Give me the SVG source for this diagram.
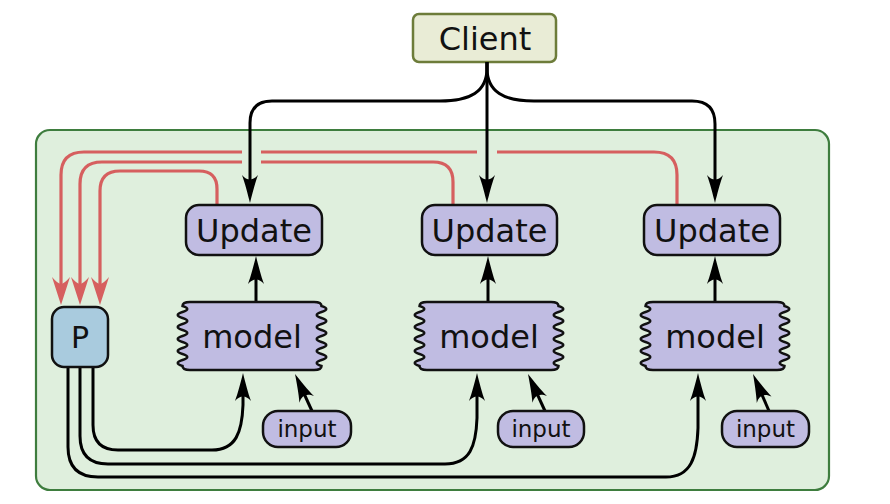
<svg xmlns="http://www.w3.org/2000/svg" width="890" height="504" viewBox="0 0 890 504">
<style>
text{font-family:"DejaVu Sans","Liberation Sans",sans-serif;text-anchor:middle;fill:#111}
.big{font-size:32px}
.small{font-size:23px}
.box{fill:#c0bce2;stroke:#111;stroke-width:2.5}
.blk{fill:none;stroke:#000;stroke-width:3;marker-end:url(#ab)}
.red{fill:none;stroke:#d65f5f;stroke-width:3.2;marker-end:url(#ar)}
</style>
<defs>
<marker id="ab" viewBox="-20 -9 32 18" refX="0" refY="0" markerWidth="32" markerHeight="18" markerUnits="userSpaceOnUse" orient="auto">
<path d="M10,0 C2,-2 -10,-5 -18,-8 C-12,-3 -12,3 -18,8 C-10,5 2,2 10,0 Z" fill="#000"/>
</marker>
<marker id="ar" viewBox="-18 -10 32 20" refX="0" refY="0" markerWidth="32" markerHeight="20" markerUnits="userSpaceOnUse" orient="auto">
<path d="M12,0 L-16,-9 Q-9,-3 -9,0 Q-9,3 -16,9 Z" fill="#d65f5f"/>
</marker>
<path id="modelShape" d="M12,0 H136 Q143.5,0 143.5,4 Q153,7 143.5,10 Q134,13 143.5,16 Q153,19 143.5,22 Q134,25 143.5,28 Q153,31 143.5,34 Q134,37 143.5,40 Q153,43 143.5,46 Q134,49 143.5,52 Q153,55 143.5,58 Q134,61 143.5,64 Q143.5,68 136,68 H12 Q4.5,68 4.5,64 Q-5,61 4.5,58 Q14,55 4.5,52 Q-5,49 4.5,46 Q14,43 4.5,40 Q-5,37 4.5,34 Q14,31 4.5,28 Q-5,25 4.5,22 Q14,19 4.5,16 Q-5,13 4.5,10 Q14,7 4.5,4 Q4.5,0 12,0 Z"/>
</defs>

<g id="container">
<rect x="36" y="130" width="793" height="360" rx="14" fill="#dfefdd" stroke="#3e7d3e" stroke-width="2.2"/>
</g>

<g id="client">
<rect x="413" y="14" width="143" height="48" rx="6" fill="#e9ecd6" stroke="#6d7c3a" stroke-width="2.5"/>
<text class="big" x="485" y="50">Client</text>
</g>

<g id="connectors">
<path class="red" d="M217,205 V189 Q217,171 199,171 H120 Q100,171 100,191 V293"/>
<path class="red" d="M453,205 V182 Q453,162 433,162 H261 M242,162 H102 Q80,162 80,184 V293"/>
<path class="red" d="M677,205 V175 Q677,152 654,152 H497 M477,152 H261 M242,152 H84 Q61,152 61,175 V293"/>
<path class="blk" d="M487,62 V68 C487,92 470,101 440,101 H272 Q250,101 250,123 V193"/>
<path class="blk" d="M487,62 V193"/>
<path class="blk" d="M487,62 V68 C487,92 504,101 534,101 H692 Q715,101 715,124 V193"/>
<path class="blk" d="M256,302 V266"/>
<path class="blk" d="M488,302 V266"/>
<path class="blk" d="M715,302 V266"/>
<path class="blk" d="M93,367 V425 Q93,450 118,450 H212 C236,450 242,432 243,405 V383"/>
<path class="blk" d="M80,367 V436 Q80,464 108,464 H445 C470,464 476,446 477,418 V383"/>
<path class="blk" d="M68,367 V447 Q68,477 98,477 H666 C691,477 697,457 698,428 V383"/>
<path class="blk" d="M312,411 L299.2,383.1"/>
<path class="blk" d="M545,411 L532.2,383.1"/>
<path class="blk" d="M769,411 L757,383.2"/>
</g>

<g id="update1"><rect class="box" x="186" y="205" width="136" height="50" rx="13"/><text class="big" x="254" y="242">Update</text></g>
<g id="update2"><rect class="box" x="422" y="205" width="135" height="50" rx="13"/><text class="big" x="489.5" y="242">Update</text></g>
<g id="update3"><rect class="box" x="644" y="205" width="136" height="50" rx="13"/><text class="big" x="712" y="242">Update</text></g>

<g id="model1"><use href="#modelShape" class="box" transform="translate(178,302)"/><text class="big" x="252" y="348">model</text></g>
<g id="model2"><use href="#modelShape" class="box" transform="translate(415,302)"/><text class="big" x="489" y="348">model</text></g>
<g id="model3"><use href="#modelShape" class="box" transform="translate(641,302)"/><text class="big" x="715" y="348">model</text></g>

<g id="input1"><rect class="box" x="263" y="411" width="88" height="36" rx="15"/><text class="small" x="307" y="437">input</text></g>
<g id="input2"><rect class="box" x="498" y="411" width="86" height="36" rx="15"/><text class="small" x="541" y="437">input</text></g>
<g id="input3"><rect class="box" x="722" y="411" width="87" height="36" rx="15"/><text class="small" x="765.5" y="437">input</text></g>

<g id="P"><rect x="52" y="307" width="56" height="60" rx="12" fill="#a9cbde" stroke="#111" stroke-width="2.5"/><text x="80" y="348" style="font-size:30px">P</text></g>
</svg>
